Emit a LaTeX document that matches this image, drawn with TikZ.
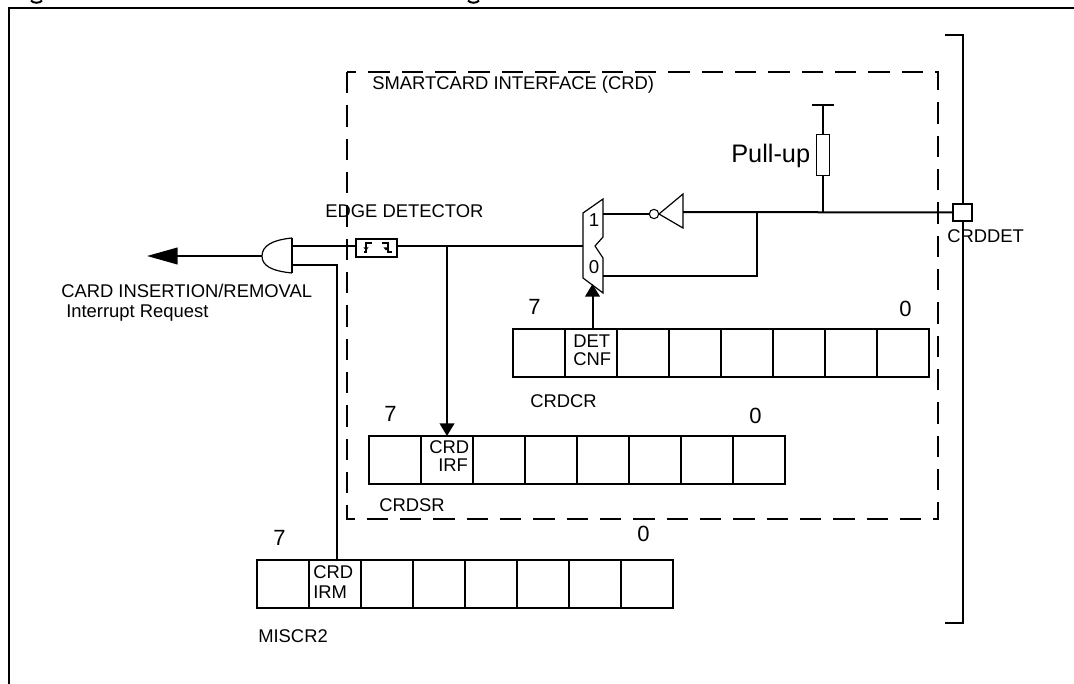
\documentclass[tikz,border=0pt]{standalone}
\usepackage{fontspec}
\setmainfont{Liberation Sans}
\usetikzlibrary{arrows.meta}
\tikzset{
  wire/.style={line width=1.5pt},
  thin wire/.style={line width=0.9pt},
  lbl/.style={inner sep=0pt,font=\fontsize{13.8}{15}\selectfont,anchor=base west},
  bignum/.style={inner sep=0pt,font=\fontsize{16.5}{18}\selectfont,anchor=base west},
  muxnum/.style={inner sep=0pt,font=\fontsize{14}{16}\selectfont,anchor=base west},
  celltxt/.style={inner sep=0pt,font=\fontsize{13.8}{15}\selectfont,anchor=base west},
  reg/.style={line width=1.5pt},
  head/.style={-{Triangle[length=9.5pt,width=11pt]}},
}
\newcommand{\regcells}[2]{%
  \draw[reg] (#1,#2) rectangle ++(416,48);
  \foreach \i in {1,...,7}{\draw[reg] ({#1+52*\i},#2) -- ++(0,48);}
}
\begin{document}
\begin{tikzpicture}[x=0.75pt,y=-0.75pt]
\useasboundingbox (0,0) rectangle (1074,684);
% cropped title descenders
\draw[line width=1.5pt] (31,0.5) .. controls (33,3.5) and (40,3.5) .. (42,0.5);
\draw[line width=1.5pt] (468,0.5) .. controls (470,3.5) and (477,3.5) .. (479,0.5);
% frame
\coordinate (fa) at (9,684); \coordinate (fb) at (9,8); \coordinate (fc) at (1074,8);
\draw[wire] (fa) -- (fb) -- (fc);
% dashed box
\coordinate (d1) at (347,72); \coordinate (d2) at (938,519);
\draw[wire,dash pattern=on 16pt off 9pt] (d1) rectangle (d2);
% bus
\coordinate (b0) at (945,35); \coordinate (b1) at (963,35); \coordinate (b2) at (963,623); \coordinate (b3) at (945,623);
\draw[wire] (b0) -- (b1) -- (b2) -- (b3);
% registers
\regcells{513}{329}
\regcells{369}{436}
\regcells{257}{560}
\node[celltxt] (det) at (573,347) {DET};
\node[celltxt] (cnf) at (573,365) {CNF};
\node[celltxt] (crd1) at (429,453) {CRD};
\node[celltxt] (irf) at (438,471) {IRF};
\node[celltxt] (crd2) at (313,578) {CRD};
\node[celltxt] (irm) at (313,598) {IRM};
\coordinate (crt) at (447,436);
\coordinate (crm) at (337,560);
\coordinate (cdt) at (592.5,329);
% labels
\node[lbl] (t1) at (372,90) {SMARTCARD INTERFACE (CRD)};
\node[lbl] (t2) at (325,218) {EDGE DETECTOR};
\node[lbl] (t3) at (61,297) {CARD INSERTION/REMOVAL};
\node[lbl] (t4) at (66,317) {Interrupt Request};
\node[lbl] (t5) at (947,243) {CRDDET};
\node[lbl] (t6) at (530,407) {CRDCR};
\node[lbl] (t7) at (379,511) {CRDSR};
\node[lbl] (t8) at (258,642) {MISCR2};
\node[inner sep=0pt,font=\fontsize{19}{21}\selectfont,anchor=base west] (p) at (731,163) {Pull-up};
\node[bignum] (n1) at (528,315) {7};
\node[bignum] (n2) at (899,316) {0};
\node[bignum] (n3) at (384,421) {7};
\node[bignum] (n4) at (749,423) {0};
\node[bignum] (n5) at (273,545) {7};
\node[bignum] (n6) at (637,541) {0};
% pad
\node[draw,line width=1.5pt,minimum width=14pt,minimum height=12.75pt,inner sep=0pt,fill=white] (pad) at (962.5,212.5) {};
% pull-up
\coordinate (pt1) at (812,105); \coordinate (pt2) at (834,105);
\draw[wire] (pt1) -- (pt2);
\coordinate (pm) at (823,105);
\node[draw,line width=1pt,minimum width=9.5pt,minimum height=31pt,inner sep=0pt] (res) at (823,155) {};
\coordinate (pj) at (823,212);
\draw[wire] (pm) -- (res.north);
\draw[wire] (res.south) -- (pj);
% main line
\coordinate (inv) at (683,212);
\coordinate (j2) at (757,212);
\draw[wire] (inv) -- (pad.west);
% inverter
\coordinate (ia) at (683,194); \coordinate (ib) at (683,228); \coordinate (ic) at (659,214);
\draw[thin wire] (ia) -- (ib) -- (ic) -- cycle;
\node[draw,circle,line width=0.8pt,minimum size=7pt,inner sep=0pt] (bub) at (654,214) {};
% mux
\coordinate (m1) at (583,213); \coordinate (m2) at (603,199);
\draw[thin wire] (m1) -- (m2) -- (603,237) -- (595,246) -- (603,258) -- (603,293) -- (583,278) -- cycle;
\node[muxnum] (mx1) at (588.5,227) {1};
\node[muxnum] (mx0) at (588.5,273) {0};
\coordinate (mi1) at (603,214);
\coordinate (mi0) at (603,276);
\coordinate (mo) at (583,246);
\draw[wire] (mi1) -- (bub.west);
\draw[wire] (mi0) -- (757,276) -- (j2);
% edge detector
\node[draw,line width=1.3pt,minimum width=30.5pt,minimum height=13.5pt,inner sep=0pt] (ed) at (376.5,248) {};
\draw[line width=0.9pt] (364,252) -- (366,252) -- (366,243) -- (372,243);
\draw[line width=0.9pt] (382,243) -- (388,243) -- (388,252) -- (392,252);
\fill (366,250.5) -- (363.5,247.5) -- (368.5,247.5) -- cycle;
\fill (386,250.5) -- (383.5,247.5) -- (388.5,247.5) -- cycle;
\coordinate (edr) at (397,246);
\coordinate (edl) at (356,246);
\draw[wire] (edr) -- (mo);
\coordinate (jed) at (447,246);
\draw[wire,head] (jed) -- (crt);
\draw[wire,head] (cdt) -- (592.5,284);
% AND gate
\coordinate (ga) at (292,238); \coordinate (gb) at (292,273);
\draw[thin wire] (ga) .. controls (272,240) and (262,246) .. (262,256) .. controls (262,266) and (272,271) .. (gb);
\draw[wire] (ga) -- (gb);
\coordinate (gi1) at (292,246);
\coordinate (gi2) at (292,265);
\draw[wire] (gi1) -- (edl);
\draw[wire] (gi2) -- (337,265) -- (crm);
\coordinate (gout) at (262,256);
\coordinate (aro) at (147,256);
\draw[wire,-{Triangle[length=23pt,width=12.5pt]}] (gout) -- (aro);
\end{tikzpicture}
\end{document}
